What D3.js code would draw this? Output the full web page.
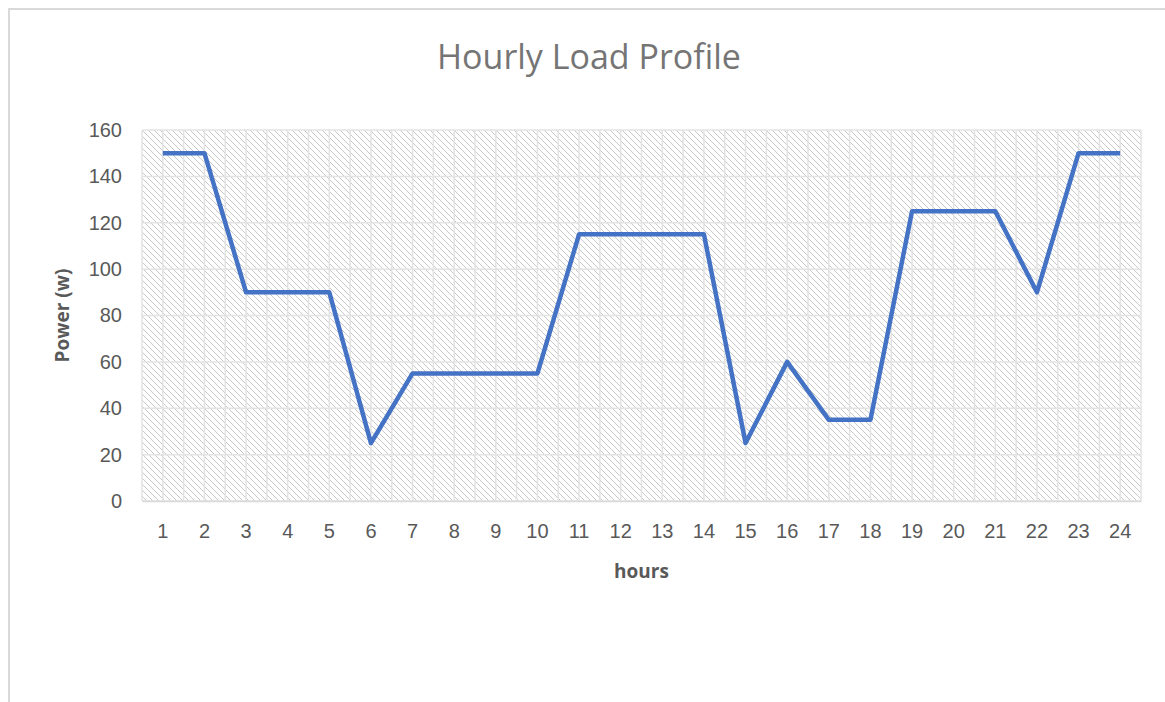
<!DOCTYPE html>
<html>
<head>
<meta charset="utf-8">
<script src="https://cdn.jsdelivr.net/npm/d3@7"></script>
<style>
  body { margin: 0; background: #fff; }
  svg { display: block; font-family: "Open Sans", "Noto Sans", sans-serif; }
</style>
</head>
<body>
<svg id="chart" width="1165" height="702"></svg>
<script>
// data
const hours = d3.range(1, 25).map(String);
const power = [150, 150, 90, 90, 90, 25, 55, 55, 55, 55, 115, 115, 115, 115, 25, 60, 35, 35, 125, 125, 125, 90, 150, 150];
const yTicks = [0, 20, 40, 60, 80, 100, 120, 140, 160];

const svg = d3.select("#chart");
const width = 1165, height = 702;
const margin = { top: 130, right: 24, bottom: 201, left: 142 };
const innerWidth = width - margin.left - margin.right;
const innerHeight = height - margin.top - margin.bottom;

// chart frame (left and top edges only, the rest runs off the page)
svg.append("path")
  .attr("d", `M9,${height} V9 H${width}`)
  .attr("fill", "none")
  .attr("stroke", "#d9d9d9")
  .attr("stroke-width", 2);

// hatch pattern for plot area
const defs = svg.append("defs");
const pat = defs.append("pattern")
  .attr("id", "hatch")
  .attr("patternUnits", "userSpaceOnUse")
  .attr("width", 6).attr("height", 6);
pat.append("rect").attr("width", 6).attr("height", 6).attr("fill", "#fff");
pat.append("path")
  .attr("d", "M0,0 L6,6 M-1,5 L1,7 M5,-1 L7,1")
  .attr("stroke", "#c8c8c8")
  .attr("stroke-width", 1);

const g = svg.append("g")
  .attr("transform", `translate(${margin.left},${margin.top})`);

const x = d3.scaleBand()
  .domain(hours)
  .range([0, innerWidth])
  .padding(0);

const y = d3.scaleLinear()
  .domain([0, 160])
  .range([innerHeight, 0]);

g.append("rect")
  .attr("width", innerWidth)
  .attr("height", innerHeight)
  .attr("fill", "url(#hatch)");

// vertical gridlines at category edges and centres
const half = x.bandwidth() / 2;
const vLines = d3.range(0, hours.length * 2 + 1).map(i => i * half);
g.append("g")
  .selectAll("line")
  .data(vLines)
  .join("line")
  .attr("x1", d => d).attr("x2", d => d)
  .attr("y1", 0).attr("y2", innerHeight)
  .attr("stroke", "#e3e3e3")
  .attr("stroke-width", 1.5);

// horizontal gridlines
g.append("g")
  .selectAll("line")
  .data(yTicks)
  .join("line")
  .attr("x1", 0).attr("x2", innerWidth)
  .attr("y1", d => y(d)).attr("y2", d => y(d))
  .attr("stroke", "#e3e3e3")
  .attr("stroke-width", 1.5);

// axes
const yAxis = g.append("g")
  .call(d3.axisLeft(y).tickValues(yTicks).tickSize(0).tickPadding(20));
yAxis.select(".domain").remove();
yAxis.selectAll("text")
  .attr("fill", "#595959")
  .attr("font-size", 20);

const xAxis = g.append("g")
  .attr("transform", `translate(0,${innerHeight})`)
  .call(d3.axisBottom(x).tickSize(0).tickPadding(23));
xAxis.select(".domain")
  .attr("stroke", "#d9d9d9")
  .attr("stroke-width", 1.5);
xAxis.selectAll("text")
  .attr("fill", "#595959")
  .attr("font-size", 20);

// line
const line = d3.line()
  .x((d, i) => x(hours[i]) + half)
  .y(d => y(d));

g.append("path")
  .datum(power)
  .attr("fill", "none")
  .attr("stroke", "#4472c4")
  .attr("stroke-width", 4.5)
  .attr("stroke-linejoin", "round")
  .attr("d", line);

// title and axis labels
svg.append("text")
  .attr("x", 589)
  .attr("y", 69)
  .attr("text-anchor", "middle")
  .attr("fill", "#757575")
  .attr("font-size", 34)
  .text("Hourly Load Profile");

svg.append("text")
  .attr("x", margin.left + innerWidth / 2)
  .attr("y", 578)
  .attr("text-anchor", "middle")
  .attr("fill", "#595959")
  .attr("font-size", 19)
  .attr("font-weight", "bold")
  .text("hours");

svg.append("text")
  .attr("transform", `translate(69,${margin.top + innerHeight / 2}) rotate(-90)`)
  .attr("text-anchor", "middle")
  .attr("fill", "#595959")
  .attr("font-size", 19)
  .attr("font-weight", "bold")
  .text("Power (w)");
</script>
</body>
</html>
